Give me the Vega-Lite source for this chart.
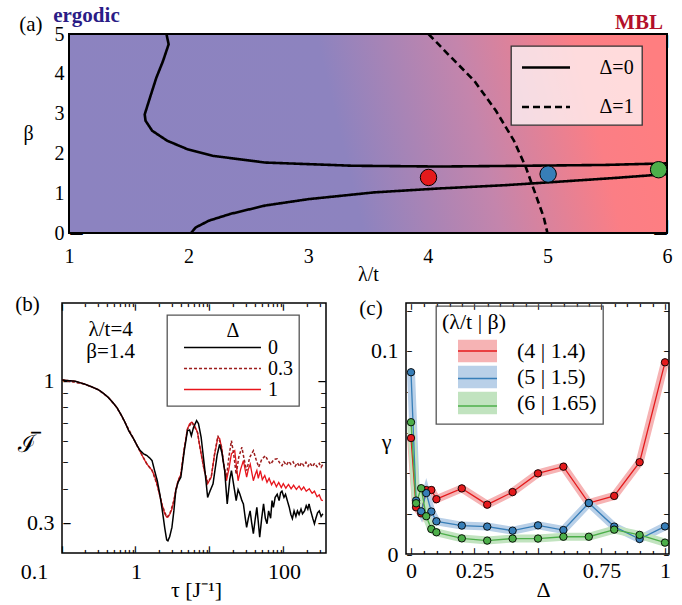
{
  "$schema": "https://vega.github.io/schema/vega-lite/v6.json",
  "background": "white",
  "padding": {"left": 0, "top": 4, "right": 2, "bottom": 2},
  "config": {
    "font": "Liberation Serif",
    "view": {"stroke": "black", "strokeWidth": 1.5},
    "axis": {"domain": false, "ticks": false, "grid": false, "labelColor": "black", "titleColor": "black", "labelFontWeight": "normal", "titleFontWeight": "normal", "labelFlush": false, "labelOverlap": false, "zindex": 2},
    "legend": {"titleFontWeight": "normal", "labelColor": "black", "titleColor": "black", "strokeWidth": 1.3},
    "text": {"font": "Liberation Serif", "color": "black"}
  },
  "datasets": {
    "alines": [
      {"seg": "u", "d": "Δ=0", "i": 0, "x": 1.815, "y": 5.0},
      {"seg": "u", "d": "Δ=0", "i": 1, "x": 1.833, "y": 4.74},
      {"seg": "u", "d": "Δ=0", "i": 2, "x": 1.786, "y": 4.32},
      {"seg": "u", "d": "Δ=0", "i": 3, "x": 1.73, "y": 3.9},
      {"seg": "u", "d": "Δ=0", "i": 4, "x": 1.677, "y": 3.4},
      {"seg": "u", "d": "Δ=0", "i": 5, "x": 1.633, "y": 2.98},
      {"seg": "u", "d": "Δ=0", "i": 6, "x": 1.64, "y": 2.82},
      {"seg": "u", "d": "Δ=0", "i": 7, "x": 1.695, "y": 2.57},
      {"seg": "u", "d": "Δ=0", "i": 8, "x": 1.82, "y": 2.32},
      {"seg": "u", "d": "Δ=0", "i": 9, "x": 1.986, "y": 2.11},
      {"seg": "u", "d": "Δ=0", "i": 10, "x": 2.2, "y": 1.94},
      {"seg": "u", "d": "Δ=0", "i": 11, "x": 2.64, "y": 1.77},
      {"seg": "u", "d": "Δ=0", "i": 12, "x": 3.37, "y": 1.69},
      {"seg": "u", "d": "Δ=0", "i": 13, "x": 4.1, "y": 1.67},
      {"seg": "u", "d": "Δ=0", "i": 14, "x": 4.82, "y": 1.69},
      {"seg": "u", "d": "Δ=0", "i": 15, "x": 5.48, "y": 1.71},
      {"seg": "u", "d": "Δ=0", "i": 16, "x": 6.0, "y": 1.75},
      {"seg": "l", "d": "Δ=0", "i": 0, "x": 2.02, "y": 0.0},
      {"seg": "l", "d": "Δ=0", "i": 1, "x": 2.06, "y": 0.14},
      {"seg": "l", "d": "Δ=0", "i": 2, "x": 2.17, "y": 0.31},
      {"seg": "l", "d": "Δ=0", "i": 3, "x": 2.35, "y": 0.48},
      {"seg": "l", "d": "Δ=0", "i": 4, "x": 2.64, "y": 0.69},
      {"seg": "l", "d": "Δ=0", "i": 5, "x": 3.0, "y": 0.85},
      {"seg": "l", "d": "Δ=0", "i": 6, "x": 3.55, "y": 1.02},
      {"seg": "l", "d": "Δ=0", "i": 7, "x": 4.1, "y": 1.12},
      {"seg": "l", "d": "Δ=0", "i": 8, "x": 4.64, "y": 1.2},
      {"seg": "l", "d": "Δ=0", "i": 9, "x": 5.0, "y": 1.27},
      {"seg": "l", "d": "Δ=0", "i": 10, "x": 5.55, "y": 1.38},
      {"seg": "l", "d": "Δ=0", "i": 11, "x": 6.0, "y": 1.48},
      {"seg": "d", "d": "Δ=1", "i": 0, "x": 4.006, "y": 5.0},
      {"seg": "d", "d": "Δ=1", "i": 1, "x": 4.17, "y": 4.49},
      {"seg": "d", "d": "Δ=1", "i": 2, "x": 4.39, "y": 3.82},
      {"seg": "d", "d": "Δ=1", "i": 3, "x": 4.57, "y": 3.07},
      {"seg": "d", "d": "Δ=1", "i": 4, "x": 4.72, "y": 2.32},
      {"seg": "d", "d": "Δ=1", "i": 5, "x": 4.82, "y": 1.65},
      {"seg": "d", "d": "Δ=1", "i": 6, "x": 4.9, "y": 0.98},
      {"seg": "d", "d": "Δ=1", "i": 7, "x": 4.97, "y": 0.39},
      {"seg": "d", "d": "Δ=1", "i": 8, "x": 5.0, "y": 0.0}
    ],
    "b0": [
      {"t":0.1,"I":1.0,"d":"0"},{"t":0.15,"I":0.99,"d":"0"},{"t":0.2,"I":0.967,"d":"0"},{"t":0.25,"I":0.945,"d":"0"},{"t":0.31,"I":0.921,"d":"0"},{"t":0.36,"I":0.895,"d":"0"},{"t":0.42,"I":0.864,"d":"0"},{"t":0.48,"I":0.83,"d":"0"},{"t":0.55,"I":0.793,"d":"0"},{"t":0.63,"I":0.745,"d":"0"},{"t":0.71,"I":0.699,"d":"0"},{"t":0.8,"I":0.65,"d":"0"},{"t":0.93,"I":0.607,"d":"0"},{"t":1.05,"I":0.57,"d":"0"},{"t":1.14,"I":0.55,"d":"0"},{"t":1.27,"I":0.535,"d":"0"},{"t":1.41,"I":0.527,"d":"0"},{"t":1.55,"I":0.515,"d":"0"},{"t":1.65,"I":0.505,"d":"0"},{"t":1.8,"I":0.46,"d":"0"},{"t":1.94,"I":0.426,"d":"0"},{"t":2.1,"I":0.38,"d":"0"},{"t":2.27,"I":0.331,"d":"0"},{"t":2.45,"I":0.285,"d":"0"},{"t":2.6,"I":0.258,"d":"0"},{"t":2.7,"I":0.256,"d":"0"},{"t":2.85,"I":0.265,"d":"0"},{"t":3.06,"I":0.287,"d":"0"},{"t":3.25,"I":0.33,"d":"0"},{"t":3.45,"I":0.392,"d":"0"},{"t":3.7,"I":0.42,"d":"0"},{"t":4.04,"I":0.439,"d":"0"},{"t":4.5,"I":0.55,"d":"0"},{"t":4.96,"I":0.651,"d":"0"},{"t":5.3,"I":0.655,"d":"0"},{"t":5.6,"I":0.624,"d":"0"},{"t":6.0,"I":0.67,"d":"0"},{"t":6.6,"I":0.709,"d":"0"},{"t":7.0,"I":0.69,"d":"0"},{"t":7.6,"I":0.615,"d":"0"},{"t":8.5,"I":0.47,"d":"0"},{"t":9.3,"I":0.37,"d":"0"},{"t":10,"I":0.39,"d":"0"},{"t":11,"I":0.415,"d":"0"},{"t":12.5,"I":0.53,"d":"0"},{"t":13.5,"I":0.58,"d":"0"},{"t":14.5,"I":0.54,"d":"0"},{"t":15.8,"I":0.464,"d":"0"},{"t":17.1,"I":0.35,"d":"0"},{"t":18.5,"I":0.43,"d":"0"},{"t":19.5,"I":0.464,"d":"0"},{"t":20.5,"I":0.426,"d":"0"},{"t":22.6,"I":0.36,"d":"0"},{"t":24,"I":0.395,"d":"0"},{"t":25.4,"I":0.38,"d":"0"},{"t":27,"I":0.36,"d":"0"},{"t":28.3,"I":0.35,"d":"0"},{"t":30,"I":0.31,"d":"0"},{"t":31.3,"I":0.287,"d":"0"},{"t":33,"I":0.31,"d":"0"},{"t":34.9,"I":0.33,"d":"0"},{"t":36.5,"I":0.3,"d":"0"},{"t":38.6,"I":0.272,"d":"0"},{"t":41,"I":0.31,"d":"0"},{"t":43,"I":0.34,"d":"0"},{"t":45,"I":0.3,"d":"0"},{"t":47,"I":0.264,"d":"0"},{"t":50,"I":0.31,"d":"0"},{"t":53,"I":0.35,"d":"0"},{"t":56,"I":0.31,"d":"0"},{"t":59,"I":0.296,"d":"0"},{"t":62,"I":0.33,"d":"0"},{"t":66,"I":0.31,"d":"0"},{"t":69,"I":0.36,"d":"0"},{"t":72,"I":0.34,"d":"0"},{"t":76,"I":0.37,"d":"0"},{"t":81,"I":0.38,"d":"0"},{"t":86,"I":0.36,"d":"0"},{"t":90,"I":0.385,"d":"0"},{"t":94,"I":0.39,"d":"0"},{"t":100,"I":0.37,"d":"0"},{"t":105,"I":0.38,"d":"0"},{"t":111,"I":0.36,"d":"0"},{"t":118,"I":0.34,"d":"0"},{"t":124,"I":0.32,"d":"0"},{"t":130,"I":0.309,"d":"0"},{"t":137,"I":0.33,"d":"0"},{"t":145,"I":0.315,"d":"0"},{"t":152,"I":0.33,"d":"0"},{"t":160,"I":0.32,"d":"0"},{"t":170,"I":0.335,"d":"0"},{"t":178,"I":0.322,"d":"0"},{"t":190,"I":0.33,"d":"0"},{"t":200,"I":0.345,"d":"0"},{"t":210,"I":0.335,"d":"0"},{"t":218,"I":0.35,"d":"0"},{"t":230,"I":0.33,"d":"0"},{"t":245,"I":0.31,"d":"0"},{"t":258,"I":0.296,"d":"0"},{"t":270,"I":0.31,"d":"0"},{"t":285,"I":0.325,"d":"0"},{"t":300,"I":0.33,"d":"0"},{"t":318,"I":0.315,"d":"0"},{"t":336,"I":0.322,"d":"0"}
    ],
    "b03": [
      {"t":0.1,"I":1.0,"d":"0.3"},{"t":0.2,"I":0.967,"d":"0.3"},{"t":0.31,"I":0.921,"d":"0.3"},{"t":0.42,"I":0.864,"d":"0.3"},{"t":0.55,"I":0.793,"d":"0.3"},{"t":0.71,"I":0.699,"d":"0.3"},{"t":0.93,"I":0.607,"d":"0.3"},{"t":1.14,"I":0.545,"d":"0.3"},{"t":1.41,"I":0.49,"d":"0.3"},{"t":1.65,"I":0.465,"d":"0.3"},{"t":1.94,"I":0.41,"d":"0.3"},{"t":2.27,"I":0.345,"d":"0.3"},{"t":2.6,"I":0.313,"d":"0.3"},{"t":2.85,"I":0.32,"d":"0.3"},{"t":3.25,"I":0.36,"d":"0.3"},{"t":3.7,"I":0.425,"d":"0.3"},{"t":4.04,"I":0.45,"d":"0.3"},{"t":4.5,"I":0.56,"d":"0.3"},{"t":4.96,"I":0.66,"d":"0.3"},{"t":5.69,"I":0.7,"d":"0.3"},{"t":6.8,"I":0.64,"d":"0.3"},{"t":7.2,"I":0.58,"d":"0.3"},{"t":8.3,"I":0.47,"d":"0.3"},{"t":9.3,"I":0.42,"d":"0.3"},{"t":10.4,"I":0.44,"d":"0.3"},{"t":11.5,"I":0.53,"d":"0.3"},{"t":12.8,"I":0.624,"d":"0.3"},{"t":14.3,"I":0.57,"d":"0.3"},{"t":15.5,"I":0.48,"d":"0.3"},{"t":16.7,"I":0.439,"d":"0.3"},{"t":18,"I":0.52,"d":"0.3"},{"t":19.5,"I":0.599,"d":"0.3"},{"t":21,"I":0.53,"d":"0.3"},{"t":22.6,"I":0.45,"d":"0.3"},{"t":24.5,"I":0.52,"d":"0.3"},{"t":27,"I":0.566,"d":"0.3"},{"t":29,"I":0.51,"d":"0.3"},{"t":31.3,"I":0.464,"d":"0.3"},{"t":34.5,"I":0.52,"d":"0.3"},{"t":38.6,"I":0.55,"d":"0.3"},{"t":42,"I":0.51,"d":"0.3"},{"t":45.6,"I":0.478,"d":"0.3"},{"t":50,"I":0.51,"d":"0.3"},{"t":56,"I":0.527,"d":"0.3"},{"t":61,"I":0.505,"d":"0.3"},{"t":66,"I":0.49,"d":"0.3"},{"t":73,"I":0.51,"d":"0.3"},{"t":81,"I":0.513,"d":"0.3"},{"t":88,"I":0.495,"d":"0.3"},{"t":94,"I":0.484,"d":"0.3"},{"t":100,"I":0.5,"d":"0.3"},{"t":108,"I":0.486,"d":"0.3"},{"t":116,"I":0.502,"d":"0.3"},{"t":124,"I":0.49,"d":"0.3"},{"t":133,"I":0.5,"d":"0.3"},{"t":142,"I":0.482,"d":"0.3"},{"t":152,"I":0.496,"d":"0.3"},{"t":162,"I":0.48,"d":"0.3"},{"t":173,"I":0.497,"d":"0.3"},{"t":185,"I":0.484,"d":"0.3"},{"t":198,"I":0.498,"d":"0.3"},{"t":212,"I":0.482,"d":"0.3"},{"t":225,"I":0.495,"d":"0.3"},{"t":242,"I":0.48,"d":"0.3"},{"t":260,"I":0.494,"d":"0.3"},{"t":280,"I":0.48,"d":"0.3"},{"t":300,"I":0.493,"d":"0.3"},{"t":318,"I":0.478,"d":"0.3"},{"t":336,"I":0.49,"d":"0.3"}
    ],
    "b1": [
      {"t":0.1,"I":1.0,"d":"1"},{"t":0.15,"I":0.99,"d":"1"},{"t":0.2,"I":0.967,"d":"1"},{"t":0.25,"I":0.945,"d":"1"},{"t":0.31,"I":0.921,"d":"1"},{"t":0.36,"I":0.895,"d":"1"},{"t":0.42,"I":0.864,"d":"1"},{"t":0.48,"I":0.83,"d":"1"},{"t":0.55,"I":0.793,"d":"1"},{"t":0.63,"I":0.745,"d":"1"},{"t":0.71,"I":0.699,"d":"1"},{"t":0.8,"I":0.65,"d":"1"},{"t":0.93,"I":0.607,"d":"1"},{"t":1.05,"I":0.57,"d":"1"},{"t":1.14,"I":0.545,"d":"1"},{"t":1.27,"I":0.515,"d":"1"},{"t":1.41,"I":0.49,"d":"1"},{"t":1.55,"I":0.475,"d":"1"},{"t":1.65,"I":0.465,"d":"1"},{"t":1.8,"I":0.44,"d":"1"},{"t":1.94,"I":0.41,"d":"1"},{"t":2.1,"I":0.375,"d":"1"},{"t":2.27,"I":0.345,"d":"1"},{"t":2.45,"I":0.322,"d":"1"},{"t":2.6,"I":0.313,"d":"1"},{"t":2.7,"I":0.313,"d":"1"},{"t":2.85,"I":0.32,"d":"1"},{"t":3.06,"I":0.335,"d":"1"},{"t":3.25,"I":0.36,"d":"1"},{"t":3.45,"I":0.395,"d":"1"},{"t":3.7,"I":0.425,"d":"1"},{"t":4.04,"I":0.45,"d":"1"},{"t":4.5,"I":0.56,"d":"1"},{"t":4.96,"I":0.66,"d":"1"},{"t":5.3,"I":0.69,"d":"1"},{"t":5.69,"I":0.7,"d":"1"},{"t":6.2,"I":0.68,"d":"1"},{"t":6.8,"I":0.64,"d":"1"},{"t":7.2,"I":0.58,"d":"1"},{"t":8.3,"I":0.47,"d":"1"},{"t":9.3,"I":0.415,"d":"1"},{"t":10.4,"I":0.439,"d":"1"},{"t":11.5,"I":0.53,"d":"1"},{"t":12.8,"I":0.615,"d":"1"},{"t":13.5,"I":0.61,"d":"1"},{"t":14.3,"I":0.566,"d":"1"},{"t":15.5,"I":0.48,"d":"1"},{"t":16.7,"I":0.426,"d":"1"},{"t":18,"I":0.47,"d":"1"},{"t":19.5,"I":0.535,"d":"1"},{"t":21.6,"I":0.55,"d":"1"},{"t":24,"I":0.426,"d":"1"},{"t":26,"I":0.47,"d":"1"},{"t":28.3,"I":0.505,"d":"1"},{"t":31.3,"I":0.439,"d":"1"},{"t":33,"I":0.47,"d":"1"},{"t":35,"I":0.49,"d":"1"},{"t":38.6,"I":0.426,"d":"1"},{"t":41,"I":0.45,"d":"1"},{"t":43,"I":0.465,"d":"1"},{"t":45,"I":0.435,"d":"1"},{"t":48,"I":0.464,"d":"1"},{"t":51,"I":0.43,"d":"1"},{"t":55,"I":0.445,"d":"1"},{"t":59,"I":0.42,"d":"1"},{"t":63,"I":0.435,"d":"1"},{"t":68,"I":0.412,"d":"1"},{"t":73,"I":0.425,"d":"1"},{"t":79,"I":0.405,"d":"1"},{"t":85,"I":0.42,"d":"1"},{"t":92,"I":0.402,"d":"1"},{"t":98,"I":0.416,"d":"1"},{"t":106,"I":0.4,"d":"1"},{"t":115,"I":0.413,"d":"1"},{"t":125,"I":0.398,"d":"1"},{"t":135,"I":0.41,"d":"1"},{"t":147,"I":0.396,"d":"1"},{"t":160,"I":0.407,"d":"1"},{"t":172,"I":0.394,"d":"1"},{"t":185,"I":0.404,"d":"1"},{"t":200,"I":0.39,"d":"1"},{"t":220,"I":0.398,"d":"1"},{"t":240,"I":0.383,"d":"1"},{"t":258,"I":0.39,"d":"1"},{"t":280,"I":0.372,"d":"1"},{"t":300,"I":0.378,"d":"1"},{"t":320,"I":0.362,"d":"1"},{"t":336,"I":0.36,"d":"1"}
    ],
    "c": [
      {"D":0,"g":0.0571,"s":"(4 | 1.4)"},{"D":0.02,"g":0.023,"s":"(4 | 1.4)"},{"D":0.04,"g":0.02,"s":"(4 | 1.4)"},{"D":0.06,"g":0.0315,"s":"(4 | 1.4)"},{"D":0.08,"g":0.0315,"s":"(4 | 1.4)"},{"D":0.1,"g":0.027,"s":"(4 | 1.4)"},{"D":0.2,"g":0.0323,"s":"(4 | 1.4)"},{"D":0.3,"g":0.0243,"s":"(4 | 1.4)"},{"D":0.4,"g":0.0305,"s":"(4 | 1.4)"},{"D":0.5,"g":0.0397,"s":"(4 | 1.4)"},{"D":0.6,"g":0.043,"s":"(4 | 1.4)"},{"D":0.7,"g":0.0251,"s":"(4 | 1.4)"},{"D":0.8,"g":0.0286,"s":"(4 | 1.4)"},{"D":0.9,"g":0.0452,"s":"(4 | 1.4)"},{"D":1.0,"g":0.0944,"s":"(4 | 1.4)"},
      {"D":0,"g":0.0895,"s":"(5 | 1.5)"},{"D":0.02,"g":0.0263,"s":"(5 | 1.5)"},{"D":0.04,"g":0.021,"s":"(5 | 1.5)"},{"D":0.06,"g":0.03,"s":"(5 | 1.5)"},{"D":0.08,"g":0.0209,"s":"(5 | 1.5)"},{"D":0.1,"g":0.0161,"s":"(5 | 1.5)"},{"D":0.2,"g":0.014,"s":"(5 | 1.5)"},{"D":0.3,"g":0.0135,"s":"(5 | 1.5)"},{"D":0.4,"g":0.0115,"s":"(5 | 1.5)"},{"D":0.5,"g":0.0141,"s":"(5 | 1.5)"},{"D":0.6,"g":0.0118,"s":"(5 | 1.5)"},{"D":0.7,"g":0.0251,"s":"(5 | 1.5)"},{"D":0.8,"g":0.0135,"s":"(5 | 1.5)"},{"D":0.9,"g":0.0074,"s":"(5 | 1.5)"},{"D":1.0,"g":0.0136,"s":"(5 | 1.5)"},
      {"D":0,"g":0.0649,"s":"(6 | 1.65)"},{"D":0.02,"g":0.025,"s":"(6 | 1.65)"},{"D":0.04,"g":0.0324,"s":"(6 | 1.65)"},{"D":0.06,"g":0.0186,"s":"(6 | 1.65)"},{"D":0.08,"g":0.0123,"s":"(6 | 1.65)"},{"D":0.1,"g":0.0107,"s":"(6 | 1.65)"},{"D":0.2,"g":0.0077,"s":"(6 | 1.65)"},{"D":0.3,"g":0.0066,"s":"(6 | 1.65)"},{"D":0.4,"g":0.0076,"s":"(6 | 1.65)"},{"D":0.5,"g":0.0076,"s":"(6 | 1.65)"},{"D":0.6,"g":0.0085,"s":"(6 | 1.65)"},{"D":0.7,"g":0.0085,"s":"(6 | 1.65)"},{"D":0.8,"g":0.012,"s":"(6 | 1.65)"},{"D":0.9,"g":0.0094,"s":"(6 | 1.65)"},{"D":1.0,"g":0.0056,"s":"(6 | 1.65)"}
    ]
  },
  "spacing": 8,
  "align": "each",
  "resolve": {"scale": {"color": "independent", "fill": "independent", "stroke": "independent", "strokeDash": "independent"}, "legend": {"color": "independent", "fill": "independent", "stroke": "independent", "strokeDash": "independent"}},
  "vconcat": [
    {
      "spacing": 12,
      "align": "each",
      "resolve": {"scale": {"color": "independent", "fill": "independent", "stroke": "independent", "strokeDash": "independent"}, "legend": {"color": "independent", "fill": "independent", "stroke": "independent", "strokeDash": "independent"}},
      "hconcat": [
        {"width": 1, "height": 1, "view": {"stroke": null}, "data": {"values": [{}]}, "mark": {"type": "point", "opacity": 0}, "encoding": {"x": {"value": 0}, "y": {"value": 0}}},
        {
          "width": 598,
          "height": 199,
          "resolve": {"axis": {"x": "independent", "y": "independent"}},
          "layer": [
            {
              "data": {"values": [{"x": 1, "x2": 6, "y": 0, "y2": 5}]},
              "mark": {"type": "rect", "stroke": "black", "strokeWidth": 2,
                "fill": {"gradient": "linear", "x1": 0, "y1": 0.5, "x2": 1, "y2": 0.42,
                  "stops": [{"offset": 0, "color": "#8C83C0"}, {"offset": 0.45, "color": "#8D83BF"}, {"offset": 0.68, "color": "#C485AC"}, {"offset": 0.88, "color": "#FB7E85"}, {"offset": 1, "color": "#FF7E80"}]}},
              "encoding": {
                "x": {"field": "x", "type": "quantitative", "scale": {"domain": [1, 6], "nice": false, "zero": false},
                  "axis": {"orient": "bottom", "values": [1, 2, 3, 4, 5, 6], "format": "d", "labelPadding": 13, "labelFontSize": 20, "title": "λ/t", "titleFontSize": 20, "titleX": 299, "titleY": 41, "titleBaseline": "middle", "titleAlign": "center"}},
                "x2": {"field": "x2"},
                "y": {"field": "y", "type": "quantitative", "scale": {"domain": [0, 5], "nice": false, "zero": false},
                  "axis": {"orient": "left", "values": [0, 1, 2, 3, 4, 5], "format": "d", "labelPadding": 5, "labelFontSize": 20, "title": "β", "titleFontSize": 20, "titleAngle": 0, "titleX": -41, "titleY": 99, "titleBaseline": "middle", "titleAlign": "center"}},
                "y2": {"field": "y2"}
              }
            },
            {
              "data": {"name": "alines"},
              "mark": {"type": "line", "color": "black", "strokeWidth": 2.6},
              "encoding": {
                "x": {"field": "x", "type": "quantitative", "axis": {"orient": "bottom", "values": [1, 2, 3, 4, 5, 6], "labelExpr": "'—'", "labelFont": "DejaVu Sans", "labelFontSize": 14, "labelAngle": 90, "labelAlign": "right", "labelBaseline": "middle", "labelPadding": 0, "title": null}},
                "y": {"field": "y", "type": "quantitative", "axis": {"orient": "left", "values": [0, 1, 2, 3, 4, 5], "labelExpr": "'—'", "labelFont": "DejaVu Sans", "labelFontSize": 14, "labelAlign": "left", "labelBaseline": "middle", "labelPadding": 0, "title": null}},
                "detail": {"field": "seg"},
                "order": {"field": "i", "type": "quantitative"},
                "strokeDash": {"field": "d", "type": "nominal", "scale": {"domain": ["Δ=0", "Δ=1"], "range": [[1, 0], [7, 4]]},
                  "legend": {"title": null, "orient": "none", "legendX": 442, "legendY": 12, "symbolType": "M-2,0H2", "symbolSize": 576, "symbolStrokeWidth": 2.6, "symbolStrokeColor": "black", "symbolOffset": 13.5, "labelOffset": 40, "labelFontSize": 20, "rowPadding": 15.5, "padding": 8, "fillColor": "rgba(255,255,255,0.72)", "strokeColor": "#333"}}
              }
            },
            {
              "data": {"values": [{"x": 4.006, "y": 1.396, "k": "r"}, {"x": 5.006, "y": 1.48, "k": "b"}, {"x": 5.93, "y": 1.59, "k": "g"}]},
              "mark": {"type": "circle", "size": 270, "stroke": "black", "strokeWidth": 1, "opacity": 1},
              "encoding": {
                "x": {"field": "x", "type": "quantitative", "axis": {"orient": "bottom", "values": [1.2,1.4,1.6,1.8,2.2,2.4,2.6,2.8,3.2,3.4,3.6,3.8,4.2,4.4,4.6,4.8,5.2,5.4,5.6,5.8], "labelExpr": "'–'", "labelFont": "DejaVu Sans", "labelFontSize": 14, "labelAngle": 90, "labelAlign": "right", "labelBaseline": "middle", "labelPadding": 0, "title": null}},
                "y": {"field": "y", "type": "quantitative", "axis": {"orient": "left", "values": [0.5,1.5,2.5,3.5,4.5], "labelExpr": "'–'", "labelFont": "DejaVu Sans", "labelFontSize": 14, "labelAlign": "left", "labelBaseline": "middle", "labelPadding": 0, "title": null}},
                "fill": {"field": "k", "type": "nominal", "scale": {"domain": ["r", "b", "g"], "range": ["#E41A1C", "#377EB8", "#4DAF4A"]}, "legend": null}
              }
            },
            {
              "data": {"values": [{"x": 0.682, "y": 5.23, "t": "(a)"}]},
              "mark": {"type": "text", "fontSize": 21, "align": "center", "baseline": "middle"},
              "encoding": {
                "x": {"field": "x", "type": "quantitative", "axis": {"orient": "top", "values": [1, 2, 3, 4, 5, 6], "labelExpr": "'—'", "labelFont": "DejaVu Sans", "labelFontSize": 14, "labelAngle": 90, "labelAlign": "left", "labelBaseline": "middle", "labelPadding": 0, "title": null}},
                "y": {"field": "y", "type": "quantitative", "axis": {"orient": "right", "values": [0, 1, 2, 3, 4, 5], "labelExpr": "'—'", "labelFont": "DejaVu Sans", "labelFontSize": 14, "labelAlign": "right", "labelBaseline": "middle", "labelPadding": 0, "title": null}},
                "text": {"field": "t"}
              }
            },
            {
              "data": {"values": [{"x": 1.146, "y": 5.3, "t": "ergodic"}]},
              "mark": {"type": "text", "fontSize": 21, "fontWeight": "bold", "color": "#2B1C86", "align": "center", "baseline": "alphabetic"},
              "encoding": {
                "x": {"field": "x", "type": "quantitative", "axis": {"orient": "top", "values": [1.2,1.4,1.6,1.8,2.2,2.4,2.6,2.8,3.2,3.4,3.6,3.8,4.2,4.4,4.6,4.8,5.2,5.4,5.6,5.8], "labelExpr": "'–'", "labelFont": "DejaVu Sans", "labelFontSize": 14, "labelAngle": 90, "labelAlign": "left", "labelBaseline": "middle", "labelPadding": 0, "title": null}},
                "y": {"field": "y", "type": "quantitative", "axis": {"orient": "right", "values": [0.5,1.5,2.5,3.5,4.5], "labelExpr": "'–'", "labelFont": "DejaVu Sans", "labelFontSize": 14, "labelAlign": "right", "labelBaseline": "middle", "labelPadding": 0, "title": null}},
                "text": {"field": "t"}
              }
            },
            {
              "data": {"values": [{"x": 5.766, "y": 5.126, "t": "MBL"}]},
              "mark": {"type": "text", "fontSize": 21, "fontWeight": "bold", "color": "#B3102B", "align": "center", "baseline": "alphabetic"},
              "encoding": {
                "x": {"field": "x", "type": "quantitative", "axis": null},
                "y": {"field": "y", "type": "quantitative", "axis": null},
                "text": {"field": "t"}
              }
            }
          ]
        }
      ]
    },
    {
      "spacing": 31,
      "align": "each",
      "resolve": {"scale": {"color": "independent", "fill": "independent", "stroke": "independent", "strokeDash": "independent"}, "legend": {"color": "independent", "fill": "independent", "stroke": "independent", "strokeDash": "independent"}},
      "hconcat": [
        {
          "spacing": 8,
          "align": "each",
          "resolve": {"scale": {"color": "independent", "fill": "independent", "stroke": "independent", "strokeDash": "independent"}, "legend": {"color": "independent", "fill": "independent", "stroke": "independent", "strokeDash": "independent"}},
          "hconcat": [
            {"width": 1, "height": 1, "view": {"stroke": null}, "data": {"values": [{}]}, "mark": {"type": "point", "opacity": 0}, "encoding": {"x": {"value": 0}, "y": {"value": 0}}},
            {
              "width": 264,
              "height": 250,
              "resolve": {"axis": {"x": "independent", "y": "independent"}},
              "layer": [
                {
                  "data": {"name": "b1"},
                  "mark": {"type": "line", "strokeWidth": 1.3},
                  "encoding": {
                    "x": {"field": "t", "type": "quantitative", "scale": {"type": "log", "domain": [0.1, 370], "nice": false},
                      "axis": {"orient": "bottom", "values": [0.1, 1, 10, 100], "format": "~g", "labelExpr": "datum.value == 10 ? '' : datum.label", "labelOffset": {"condition": {"test": "datum.value < 0.5", "value": -28}, "value": 0}, "labelPadding": 8, "labelFontSize": 22, "title": "τ [J⁻¹]", "titleFontSize": 22, "titleX": 134, "titleY": 36, "titleBaseline": "middle", "titleAlign": "center"}},
                    "y": {"field": "I", "type": "quantitative", "scale": {"type": "log", "domain": [0.231, 1.92], "nice": false},
                      "axis": {"orient": "left", "values": [0.3, 1], "format": "~g", "labelPadding": 8, "labelFontSize": 22, "title": "ℐ̅", "titleFontSize": 24, "titleAngle": 0, "titleX": -36, "titleY": 141, "titleBaseline": "middle", "titleAlign": "center"}},
                    "color": {"field": "d", "type": "nominal", "scale": {"domain": ["0", "0.3", "1"], "range": ["#000000", "#9B1C1C", "#E8141B"]},
                      "legend": {"title": "Δ", "orient": "none", "legendX": 105, "legendY": 12, "titleAnchor": "middle", "titleFontSize": 20, "titlePadding": -4, "labelFontSize": 20, "symbolType": "M-4,0H4", "symbolSize": 370, "symbolStrokeWidth": 1.5, "symbolOffset": 39, "labelOffset": 35, "rowPadding": 0, "padding": 6, "fillColor": "white", "strokeColor": "#555"}},
                    "strokeDash": {"field": "d", "type": "nominal", "scale": {"domain": ["0", "0.3", "1"], "range": [[1, 0], [3, 2], [1, 0]]},
                      "legend": {"title": "Δ", "orient": "none", "legendX": 105, "legendY": 12, "titleAnchor": "middle", "titleFontSize": 20, "titlePadding": -4, "labelFontSize": 20, "symbolType": "M-4,0H4", "symbolSize": 370, "symbolStrokeWidth": 1.5, "symbolOffset": 39, "labelOffset": 35, "rowPadding": 0, "padding": 6, "fillColor": "white", "strokeColor": "#555"}}
                  }
                },
                {
                  "data": {"name": "b03"},
                  "mark": {"type": "line", "strokeWidth": 1.5},
                  "encoding": {
                    "x": {"field": "t", "type": "quantitative", "axis": {"orient": "bottom", "values": [0.1, 1, 10, 100], "labelExpr": "'–'", "labelFont": "DejaVu Sans", "labelFontSize": 16, "labelAngle": 90, "labelAlign": "right", "labelBaseline": "middle", "labelPadding": 0, "title": null}},
                    "y": {"field": "I", "type": "quantitative", "axis": {"orient": "left", "values": [0.3, 1], "labelExpr": "'–'", "labelFont": "DejaVu Sans", "labelFontSize": 18, "labelAlign": "left", "labelBaseline": "middle", "labelPadding": 0, "title": null}},
                    "color": {"field": "d", "type": "nominal"},
                    "strokeDash": {"field": "d", "type": "nominal"}
                  }
                },
                {
                  "data": {"name": "b0"},
                  "mark": {"type": "line", "strokeWidth": 1.5},
                  "encoding": {
                    "x": {"field": "t", "type": "quantitative", "axis": {"orient": "bottom", "values": [0.2,0.3,0.4,0.5,0.6,0.7,0.8,0.9,2,3,4,5,6,7,8,9,20,30,40,50,60,70,80,90,200,300], "labelExpr": "'–'", "labelFont": "DejaVu Sans", "labelFontSize": 8, "labelFontWeight": "bold", "labelAngle": 90, "labelAlign": "right", "labelBaseline": "middle", "labelPadding": 0, "title": null}},
                    "y": {"field": "I", "type": "quantitative", "axis": {"orient": "left", "values": [0.4,0.5,0.6,0.7,0.8,0.9], "labelExpr": "'–'", "labelFont": "DejaVu Sans", "labelFontSize": 12, "labelAlign": "left", "labelBaseline": "middle", "labelPadding": 0, "title": null}},
                    "color": {"field": "d", "type": "nominal"},
                    "strokeDash": {"field": "d", "type": "nominal"}
                  }
                },
                {
                  "data": {"values": [{"t": 0.4545, "I": 1.527, "s": "λ/t=4"}, {"t": 0.4545, "I": 1.267, "s": "β=1.4"}]},
                  "mark": {"type": "text", "fontSize": 21, "align": "center", "baseline": "middle"},
                  "encoding": {
                    "x": {"field": "t", "type": "quantitative", "axis": {"orient": "top", "values": [0.1, 1, 10, 100], "labelExpr": "'–'", "labelFont": "DejaVu Sans", "labelFontSize": 16, "labelAngle": 90, "labelAlign": "left", "labelBaseline": "middle", "labelPadding": 0, "title": null}},
                    "y": {"field": "I", "type": "quantitative", "axis": {"orient": "right", "values": [0.3, 1], "labelExpr": "'–'", "labelFont": "DejaVu Sans", "labelFontSize": 18, "labelAlign": "right", "labelBaseline": "middle", "labelPadding": 0, "title": null}},
                    "text": {"field": "s"}
                  }
                },
                {
                  "data": {"values": [{"t": 0.0342, "I": 1.887, "s": "(b)"}]},
                  "mark": {"type": "text", "fontSize": 21, "align": "center", "baseline": "middle"},
                  "encoding": {
                    "x": {"field": "t", "type": "quantitative", "axis": {"orient": "top", "values": [0.2,0.3,0.4,0.5,0.6,0.7,0.8,0.9,2,3,4,5,6,7,8,9,20,30,40,50,60,70,80,90,200,300], "labelExpr": "'–'", "labelFont": "DejaVu Sans", "labelFontSize": 8, "labelFontWeight": "bold", "labelAngle": 90, "labelAlign": "left", "labelBaseline": "middle", "labelPadding": 0, "title": null}},
                    "y": {"field": "I", "type": "quantitative", "axis": {"orient": "right", "values": [0.4,0.5,0.6,0.7,0.8,0.9], "labelExpr": "'–'", "labelFont": "DejaVu Sans", "labelFontSize": 12, "labelAlign": "right", "labelBaseline": "middle", "labelPadding": 0, "title": null}},
                    "text": {"field": "s"}
                  }
                }
              ]
            }
          ]
        },
        {
          "width": 263,
          "height": 251,
          "resolve": {"axis": {"x": "independent", "y": "independent"}, "scale": {"stroke": "independent"}, "legend": {"stroke": "independent"}},
          "layer": [
            {
              "data": {"name": "c"},
              "mark": {"type": "line", "strokeWidth": 8},
              "encoding": {
                "x": {"field": "D", "type": "quantitative", "scale": {"domain": [-0.0197, 1.0157], "nice": false, "zero": false},
                  "axis": {"orient": "bottom", "values": [0, 0.25, 0.5, 0.75, 1], "format": ".2~f", "labelExpr": "datum.value == 0.5 ? '' : datum.label", "labelPadding": 6, "labelFontSize": 22, "title": "Δ", "titleFontSize": 22, "titleX": 137, "titleY": 35, "titleBaseline": "middle", "titleAlign": "center"}},
                "y": {"field": "g", "type": "quantitative", "scale": {"domain": [0, 0.1236], "nice": false, "zero": false},
                  "axis": {"orient": "left", "values": [0, 0.02, 0.04, 0.06, 0.08, 0.1, 0.12], "format": ".2~f", "labelExpr": "(datum.value == 0 || datum.value == 0.1) ? datum.label : ''", "labelPadding": 8, "labelFontSize": 22, "title": "γ", "titleFontSize": 22, "titleAngle": 0, "titleX": -20, "titleY": 138, "titleBaseline": "middle", "titleAlign": "center"}},
                "stroke": {"field": "s", "type": "nominal", "scale": {"domain": ["(4 | 1.4)", "(5 | 1.5)", "(6 | 1.65)"], "range": ["#F6B3B4", "#B9D0E8", "#C1E3BF"]},
                  "legend": {"title": "(λ/t | β)", "orient": "none", "legendX": 30, "legendY": 3, "titleFontSize": 22, "titlePadding": 6, "labelFontSize": 22, "labelOffset": 28.5, "symbolType": "M-9.75,-5H9.75M-9.75,-4H9.75M-9.75,-3H9.75M-9.75,-2H9.75M-9.75,-1H9.75M-9.75,0H9.75M-9.75,1H9.75M-9.75,2H9.75M-9.75,3H9.75M-9.75,4H9.75M-9.75,5H9.75", "symbolSize": 16, "symbolStrokeWidth": 2.3, "symbolOffset": 24.5, "rowPadding": -4, "padding": 6, "strokeColor": "#555"}}
              }
            },
            {
              "data": {"name": "c"},
              "mark": {"type": "line", "strokeWidth": 1.3},
              "encoding": {
                "x": {"field": "D", "type": "quantitative", "axis": {"orient": "bottom", "values": [0, 0.25, 0.5, 0.75, 1], "labelExpr": "'–'", "labelFont": "DejaVu Sans", "labelFontSize": 14, "labelAngle": 90, "labelAlign": "right", "labelBaseline": "middle", "labelPadding": 0, "title": null}},
                "y": {"field": "g", "type": "quantitative", "axis": {"orient": "left", "values": [0, 0.02, 0.04, 0.06, 0.08, 0.1, 0.12], "labelExpr": "'–'", "labelFont": "DejaVu Sans", "labelFontSize": 12, "labelAlign": "left", "labelBaseline": "middle", "labelPadding": 0, "title": null}},
                "stroke": {"field": "s", "type": "nominal", "scale": {"domain": ["(4 | 1.4)", "(5 | 1.5)", "(6 | 1.65)"], "range": ["#E41A1C", "#377EB8", "#4DAF4A"]},
                  "legend": {"title": " ", "orient": "none", "legendX": 30, "legendY": 3, "titleFontSize": 22, "titlePadding": 6, "labelFontSize": 22, "labelExpr": "' '", "labelOffset": 28.5, "symbolType": "M-9.75,0H9.75", "symbolSize": 16, "symbolStrokeWidth": 1.3, "symbolOffset": 24.5, "rowPadding": 5.5, "padding": 6}}
              }
            },
            {
              "data": {"name": "c"},
              "mark": {"type": "circle", "size": 55, "stroke": "black", "strokeWidth": 0.9, "opacity": 1},
              "encoding": {
                "x": {"field": "D", "type": "quantitative", "axis": {"orient": "bottom", "values": [0.05,0.1,0.15,0.2,0.3,0.35,0.4,0.45,0.55,0.6,0.65,0.7,0.8,0.85,0.9,0.95], "labelExpr": "'–'", "labelFont": "DejaVu Sans", "labelFontSize": 8, "labelFontWeight": "bold", "labelAngle": 90, "labelAlign": "right", "labelBaseline": "middle", "labelPadding": 0, "title": null}},
                "y": {"field": "g", "type": "quantitative", "axis": {"orient": "right", "values": [0, 0.02, 0.04, 0.06, 0.08, 0.1, 0.12], "labelExpr": "'–'", "labelFont": "DejaVu Sans", "labelFontSize": 12, "labelAlign": "right", "labelBaseline": "middle", "labelPadding": 0, "title": null}},
                "fill": {"field": "s", "type": "nominal", "scale": {"domain": ["(5 | 1.5)", "(4 | 1.4)", "(6 | 1.65)"], "range": ["#377EB8", "#E41A1C", "#4DAF4A"]},
                  "legend": {"values": ["(4 | 1.4)", "(5 | 1.5)", "(6 | 1.65)"], "title": " ", "orient": "none", "legendX": 30, "legendY": 3, "titleFontSize": 22, "titlePadding": 6, "labelFontSize": 22, "labelExpr": "' '", "labelOffset": 28.5, "symbolType": "circle", "symbolSize": 55, "symbolStrokeColor": "black", "symbolStrokeWidth": 0.9, "symbolOffset": 24.5, "rowPadding": 5.5, "padding": 6}}
              }
            },
            {
              "data": {"values": [{"D": -0.1575, "g": 0.1206, "s": "(c)"}]},
              "mark": {"type": "text", "fontSize": 21, "align": "center", "baseline": "middle"},
              "encoding": {
                "x": {"field": "D", "type": "quantitative", "axis": {"orient": "top", "values": [0,0.05,0.1,0.15,0.2,0.25,0.3,0.35,0.4,0.45,0.5,0.55,0.6,0.65,0.7,0.75,0.8,0.85,0.9,0.95,1], "labelExpr": "'–'", "labelFont": "DejaVu Sans",
                  "labelFontSize": {"condition": {"test": "datum.value == 0 || datum.value == 0.25 || datum.value == 0.5 || datum.value == 0.75 || datum.value == 1", "value": 14}, "value": 8},
                  "labelFontWeight": {"condition": {"test": "datum.value == 0 || datum.value == 0.25 || datum.value == 0.5 || datum.value == 0.75 || datum.value == 1", "value": "normal"}, "value": "bold"},
                  "labelAngle": 90, "labelAlign": "left", "labelBaseline": "middle", "labelPadding": 0, "title": null}},
                "y": {"field": "g", "type": "quantitative", "axis": null},
                "text": {"field": "s"}
              }
            }
          ]
        }
      ]
    }
  ]
}
